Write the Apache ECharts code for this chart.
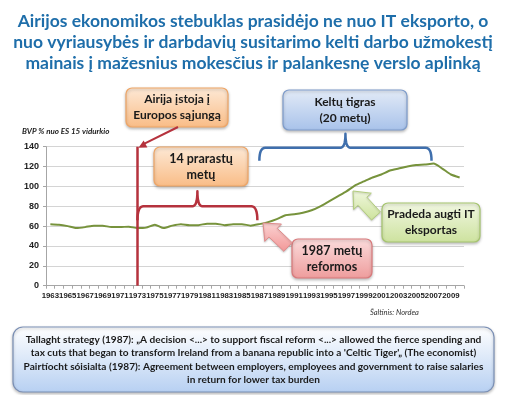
<!DOCTYPE html>
<html><head><meta charset="utf-8">
<script src="https://cdn.jsdelivr.net/npm/echarts@6/dist/echarts.min.js"></script>
<style>html,body{margin:0;padding:0;background:#fff}#c{width:506px;height:395px}</style>
</head><body><div id="c"></div>
<script>
const years = ['1963','1964','1965','1966','1967','1968','1969','1970','1971','1972','1973','1974','1975','1976','1977','1978','1979','1980','1981','1982','1983','1984','1985','1986','1987','1988','1989','1990','1991','1992','1993','1994','1995','1996','1997','1998','1999','2000','2001','2002','2003','2004','2005','2006','2007','2008','2009','2010'];
const gdpShare = [62,61.5,60,58,59,60.5,60.5,59,59,59.5,58,58.5,61.5,58,60.5,62,61,61,62.5,62.5,61,62,62,60.5,62,64,67,71,72,73.5,76,80,85,90,95,101,105,109,112,116,118,120,121.5,122,123,118,112,109];
const yTicks = [0,20,40,60,80,100,120,140];

const titleLines = ['Airijos ekonomikos stebuklas prasidėjo ne nuo IT eksporto, o','nuo vyriausybės ir darbdavių susitarimo kelti darbo užmokestį','mainais į mažesnius mokesčius ir palankesnę verslo aplinką'];
const yAxisTitle = 'BVP % nuo ES 15 vidurkio';
const sourceText = 'Šaltinis: Nordea';
const noteLines = ['Tallaght strategy (1987): „A decision <...> to support fiscal reform <...> allowed the fierce spending and',
  "tax cuts that began to transform Ireland from a banana republic into a 'Celtic Tiger'„ (The economist)",
  'Pairtíocht sóisialta (1987): Agreement between employers, employees and government to raise salaries',
  'in return for lower tax burden'];
const euYear = '1973', reformYear = '1987', peakYear = '2007';

const chart = echarts.init(document.getElementById('c'), null, {renderer:'canvas'});
const axisFont = "'Liberation Sans',Arial,sans-serif";
const boxFont = "Lato,'Open Sans',sans-serif";

chart.setOption({
  animation:false,
  backgroundColor:'#fff',
  title:{text:titleLines.join('\n'), left:'center', top:6,
    textStyle:{fontFamily:boxFont, fontWeight:'bold', fontSize:17.5, lineHeight:21, color:'#1E6EAA'}},
  grid:{left:46, right:42, top:146.7, bottom:109.3},
  xAxis:{type:'category', data:years, boundaryGap:true,
    axisLine:{lineStyle:{color:'#A6A6A6'}},
    axisTick:{show:true, interval:0, length:3, lineStyle:{color:'#A6A6A6'}},
    axisLabel:{interval:1, showMinLabel:true, hideOverlap:false, fontFamily:axisFont, fontSize:7.8, color:'#222', margin:6, fontWeight:'bold'}},
  yAxis:{type:'value', min:0, max:140, interval:20,
    axisLine:{show:true, lineStyle:{color:'#A6A6A6'}},
    axisTick:{show:true, length:3, lineStyle:{color:'#A6A6A6'}},
    splitLine:{lineStyle:{color:'#D4D4D4'}},
    axisLabel:{fontFamily:axisFont, fontSize:9, color:'#222', margin:7, fontWeight:'bold',
      formatter:v=>yTicks.includes(v)?String(v):''}},
  series:[{type:'line', data:gdpShare, symbol:'none', smooth:0.2,
    lineStyle:{color:'#77933C', width:2},
    markLine:{silent:true, symbol:['none','none'], label:{show:false},
      lineStyle:{color:'#B5323D', width:2.5, type:'solid'},
      data:[[{xAxis:euYear, yAxis:0},{xAxis:euYear, yAxis:140}]]}}]
});

function px(cat,val){return chart.convertToPixel({gridIndex:0},[cat,val]);}
function quad(p0,p1,p2,out){
  for(let i=1;i<=8;i++){const t=i/8,u=1-t;
    out.push([u*u*p0[0]+2*u*t*p1[0]+t*t*p2[0], u*u*p0[1]+2*u*t*p1[1]+t*t*p2[1]]);}
}
function bracket(x1,x2,yb,drop,rise,color){
  const xc=(x1+x2)/2, pts=[[x1,yb+drop]];
  quad([x1,yb+drop],[x1,yb],[x1+6,yb],pts);
  pts.push([xc-5,yb]);
  quad([xc-5,yb],[xc,yb],[xc,yb-rise],pts);
  quad([xc,yb-rise],[xc,yb],[xc+5,yb],pts);
  pts.push([x2-6,yb]);
  quad([x2-6,yb],[x2,yb],[x2,yb+drop],pts);
  return {type:'polyline', shape:{points:pts}, style:{fill:null, stroke:color, lineWidth:2.5, lineJoin:'round'}, z:10};
}
function grad(c1,c2){return {type:'linear',x:0,y:0,x2:0,y2:1,colorStops:[{offset:0,color:c1},{offset:1,color:c2}]};}
function blockArrow(tx,ty,bx,by,sw,hw,hl,c1,c2,stroke){
  const L=Math.hypot(tx-bx,ty-by), dx=(tx-bx)/L, dy=(ty-by)/L, nx=-dy, ny=dx;
  const nkx=tx-dx*hl, nky=ty-dy*hl;
  const pts=[[bx+nx*sw/2,by+ny*sw/2],[nkx+nx*sw/2,nky+ny*sw/2],[nkx+nx*hw/2,nky+ny*hw/2],[tx,ty],
    [nkx-nx*hw/2,nky-ny*hw/2],[nkx-nx*sw/2,nky-ny*sw/2],[bx-nx*sw/2,by-ny*sw/2]];
  return {type:'polygon', shape:{points:pts}, style:{fill:grad(c1,c2), stroke:stroke, lineWidth:1,
    shadowBlur:2, shadowColor:'rgba(0,0,0,0.2)', shadowOffsetY:1}, z:12};
}
function box(x,y,w,h,c1,c2,stroke,lines,fs,lh,r){
  return {type:'group', z:15, children:[
    {type:'rect', shape:{x:x,y:y,width:w,height:h,r:r||6},
      style:{fill:grad(c1,c2), stroke:stroke, lineWidth:1.2, shadowBlur:3, shadowColor:'rgba(0,0,0,0.25)', shadowOffsetY:1.5}},
    {type:'text', x:x+w/2, y:y+h/2, style:{text:lines.join('\n'), align:'center', verticalAlign:'middle',
      font:`bold ${fs}px ${boxFont}`, lineHeight:lh, fill:'#1a1a1a'}}
  ]};
}

const a = px(euYear,80), b = px(reformYear,80);
const c = px(reformYear,140), d = px(peakYear,140);
const top140 = px(euYear,140);

const g = [];
g.push(bracket(a[0], b[0]-2, a[1], 14, 15, '#B5323D'));
g.push(bracket(c[0], d[0]-2, c[1]+1, 13, 14, '#3F6FAD'));
g.push({type:'line', shape:{x1:178,y1:127,x2:top140[0]+5,y2:top140[1]-2}, style:{stroke:'#B5323D', lineWidth:2}, z:11});
(function(){
  const tx=top140[0]+1, ty=top140[1]+1, bx=178, by=127;
  const L=Math.hypot(tx-bx,ty-by), dx=(tx-bx)/L, dy=(ty-by)/L, nx=-dy, ny=dx;
  const hx=tx-dx*8, hy=ty-dy*8;
  g.push({type:'polygon', shape:{points:[[tx,ty],[hx+nx*4,hy+ny*4],[hx-nx*4,hy-ny*4]]}, style:{fill:'#B5323D'}, z:11});
})();
g.push(blockArrow(263,223,288,247,12,24,14,'#FBD3D3','#F29797','#E08C8C'));
g.push(blockArrow(353,191,376,216,12,24,14,'#F0F7DE','#CDE39C','#B3CD7E'));

g.push(box(126,88,102,39,'#FDE9D6','#F9BC86','#EFA565',['Airija įstoja į','Europos sąjungą'],12,16));
g.push(box(154,147,94,39,'#FDE9D6','#F9BC86','#EFA565',['14 prarastų','metų'],12.5,16));
g.push(box(283,90,124,40,'#E3EBF7','#A8C2EA','#7E9CCB',['Keltų tigras','(20 metų)'],12,15.5));
g.push(box(292,239,80,39,'#FBDCDC','#EE9C9C','#D9797B',['1987 metų','reformos'],12.5,16));
g.push(box(382,203,98,39,'#F1F7E2','#CDE29E','#A6C56E',['Pradeda augti IT','eksportas'],12,16));

g.push({type:'text', x:22, y:131, style:{text:yAxisTitle, font:`italic bold 8px ${boxFont}`, fill:'#222', verticalAlign:'middle'}, z:5});
g.push({type:'text', x:370, y:313, style:{text:sourceText, font:`italic 7.5px ${boxFont}`, fill:'#333', verticalAlign:'middle'}, z:5});

g.push(box(13,327,481,65,'#FFFFFF','#B7D0F2','#7A8FB5',noteLines,10.1,13.5,10));

chart.setOption({graphic:g});
</script></body></html>
